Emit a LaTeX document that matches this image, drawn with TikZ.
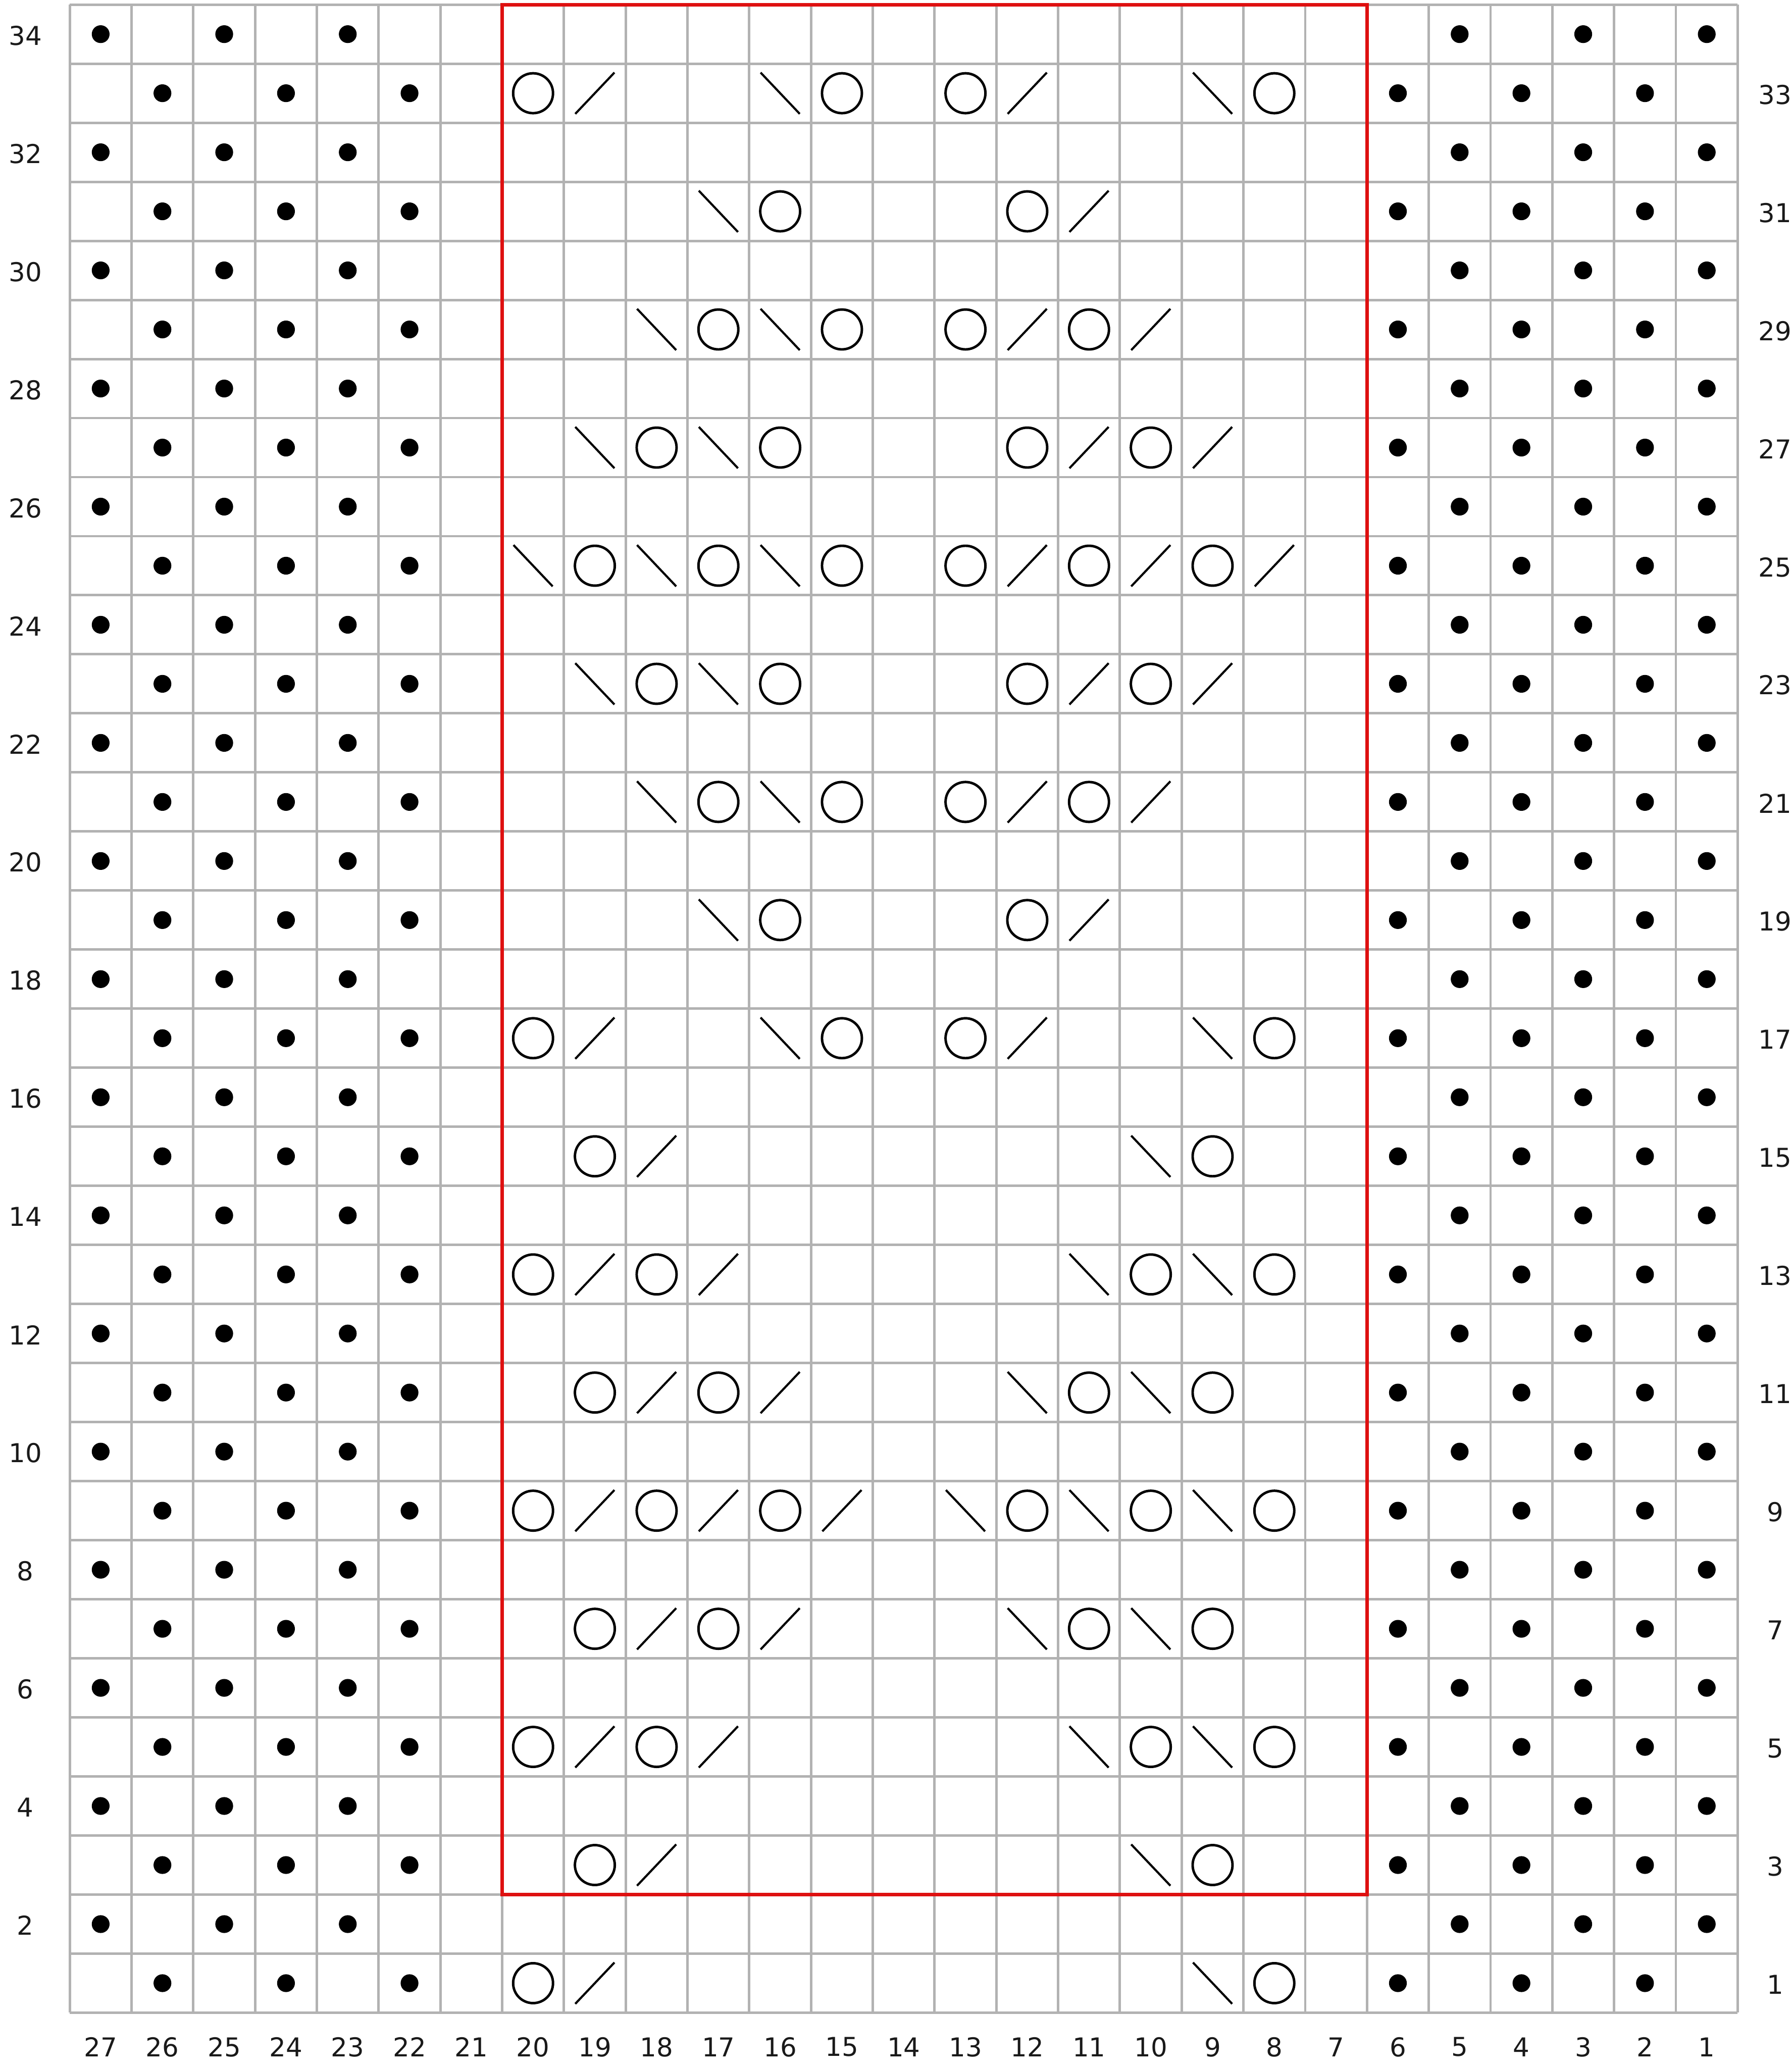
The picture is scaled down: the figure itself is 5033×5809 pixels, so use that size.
\documentclass[tikz,border=0pt]{standalone}
\usepackage{fontspec}
\setmainfont{DejaVu Sans}
\definecolor{gridgray}{RGB}{178,178,178}
\definecolor{chartred}{RGB}{222,16,16}
\definecolor{labelcol}{RGB}{25,25,25}
\newcommand\chartpt[2]{({196+(27.5-#1)*173.5},{13+(34.5-#2)*165.9})}
\begin{document}
\begin{tikzpicture}[x=0.2pt,y=-0.2pt,
  gridline/.style={draw=gridgray,line width=1.4pt},
  redframe/.style={draw=chartred,line width=2pt},
  purldot/.style={fill=black},
  yarnover/.style={draw=black,line width=1.4pt},
  decline/.style={draw=black,line width=1.2pt},
  lbl/.style={font=\fontsize{14.6}{17}\selectfont,text=labelcol,inner sep=0pt}]
\useasboundingbox[fill=white] (0,0) rectangle (5033,5809);
% grid
\foreach \i in {0,...,27}
  \draw[gridline] ({196+\i*173.5},13) -- ({196+\i*173.5},{13+34*165.9});
\foreach \j in {0,...,34}
  \draw[gridline] (196,{13+\j*165.9}) -- ({196+27*173.5},{13+\j*165.9});
% red repeat frame
\draw[redframe] ({196+7*173.5},13) rectangle ({196+21*173.5},{13+32*165.9});
% purl dots
\foreach \ri in {2,4,...,34}
  \foreach \ci in {27,25,23,5,3,1}
    \fill[purldot] \chartpt{\ci}{\ri} circle[radius=5pt];
\foreach \ri in {1,3,...,33}
  \foreach \ci in {26,24,22,6,4,2}
    \fill[purldot] \chartpt{\ci}{\ri} circle[radius=5pt];
% yarn overs
\foreach \ri/\cols in {33/{20,15,13,8},31/{16,12},29/{17,15,13,11},27/{18,16,12,10},
  25/{19,17,15,13,11,9},23/{18,16,12,10},21/{17,15,13,11},19/{16,12},17/{20,15,13,8},
  15/{19,9},13/{20,18,10,8},11/{19,17,11,9},9/{20,18,16,12,10,8},7/{19,17,11,9},
  5/{20,18,10,8},3/{19,9},1/{20,8}}
  \foreach \ci in \cols
    \draw[yarnover] \chartpt{\ci}{\ri} circle[radius=11.2pt];
% right-leaning decreases (/)
\foreach \ri/\cols in {33/{19,12},31/{11},29/{12,10},27/{11,9},25/{12,10,8},23/{11,9},
  21/{12,10},19/{11},17/{19,12},15/{18},13/{19,17},11/{18,16},9/{19,17,15},7/{18,16},
  5/{19,17},3/{18},1/{19}}
  \foreach \ci in \cols
    \draw[decline] \chartpt{\ci}{\ri} ++(-55,58) -- ++(110,-116);
% left-leaning decreases (\)
\foreach \ri/\cols in {33/{16,9},31/{17},29/{18,16},27/{19,17},25/{20,18,16},23/{19,17},
  21/{18,16},19/{17},17/{16,9},15/{10},13/{11,9},11/{12,10},9/{13,11,9},7/{12,10},
  5/{11,9},3/{10},1/{9}}
  \foreach \ci in \cols
    \draw[decline] \chartpt{\ci}{\ri} ++(-55,-58) -- ++(110,116);
% labels
\foreach \ri in {2,4,...,34}
  \node[lbl] (rowL\ri) at (71,{17+(34.5-\ri)*165.9}) {\ri};
\foreach \ri in {1,3,...,33}
  \node[lbl] (rowR\ri) at (4986,{17+(34.5-\ri)*165.9}) {\ri};
\foreach \ci in {1,...,27}
  \node[lbl] (col\ci) at ({196+(27.5-\ci)*173.5},5750) {\ci};
\end{tikzpicture}
\end{document}
